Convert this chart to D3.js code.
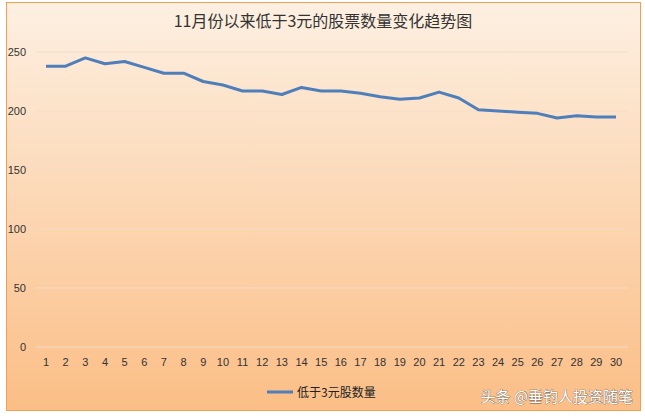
<!DOCTYPE html><html><head><meta charset="utf-8"><script src="https://cdn.jsdelivr.net/npm/d3@7"></script>
<style>body{margin:0;background:#fff}</style></head><body><svg id="c" width="645" height="418"></svg>
<script>
const days=d3.range(1,31);
const values=[238,238,245,240,242,237,232,232,225,222,217,217,214,220,217,217,215,212,210,211,216,211,201,200,199,198,194,196,195,195];
const yTicks=[0,50,100,150,200,250];
const title="11月份以来低于3元的股票数量变化趋势图";
const seriesName="低于3元股数量";
const svg=d3.select("#c");
const g=svg.append("defs").append("linearGradient").attr("id","bg").attr("x1",0).attr("y1",0).attr("x2",0).attr("y2",1);
g.append("stop").attr("offset","0%").attr("stop-color","#fdf0e2");
g.append("stop").attr("offset","100%").attr("stop-color","#fbbe86");
svg.append("rect").attr("x",6.5).attr("y",2.5).attr("width",634).attr("height",408).attr("fill","url(#bg)").attr("stroke","#f0a050");
const x=d3.scalePoint().domain(days).range([46,616]);
const y=d3.scaleLinear().domain([0,250]).range([347,52]);
svg.append("g").selectAll("line").data(yTicks).join("line").attr("x1",36).attr("x2",628).attr("y1",d=>y(d)).attr("y2",d=>y(d)).attr("stroke","#f3dcc8").attr("stroke-width",1);
svg.append("g").selectAll("text").data(yTicks).join("text").attr("x",26).attr("y",d=>y(d)+4).attr("text-anchor","end").attr("font-family","Liberation Sans, Arial").attr("font-size",11).attr("fill","#333").text(d=>d);
svg.append("g").selectAll("text").data(days).join("text").attr("x",d=>x(d)).attr("y",366).attr("text-anchor","middle").attr("font-family","Liberation Sans, Arial").attr("font-size",11).attr("fill","#333").text(d=>d);
svg.append("path").datum(values).attr("fill","none").attr("stroke","#4f7fbb").attr("stroke-width",3).attr("stroke-linejoin","round")
 .attr("d",d3.line().x((d,i)=>x(days[i])).y(d=>y(d)));
svg.append("text").attr("x",323).attr("y",27).attr("text-anchor","middle").attr("font-family","Noto Sans CJK SC").attr("font-size",16).attr("fill","#333").text(title);
svg.append("line").attr("x1",267).attr("x2",293).attr("y1",392).attr("y2",392).attr("stroke","#4f7fbb").attr("stroke-width",3);
svg.append("text").attr("x",297).attr("y",397).attr("font-family","Noto Sans CJK SC").attr("font-size",12).attr("fill","#222").text(seriesName);
svg.append("text").attr("x",633).attr("y",402).attr("text-anchor","end").attr("font-family","Noto Sans CJK SC").attr("font-size",15).attr("fill","#fff").attr("stroke","#555").attr("stroke-width",0.6).attr("paint-order","stroke").text("头条 @垂钓人投资随笔");
</script></body></html>
